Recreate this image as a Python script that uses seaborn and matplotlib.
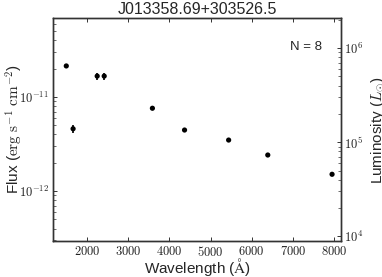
import numpy as np
import seaborn as sns
import matplotlib
matplotlib.use('Agg')
import matplotlib.pyplot as plt
from matplotlib.ticker import FixedLocator, FuncFormatter, LogLocator, NullFormatter

# photometry
wavelength = [1500, 1665, 2250, 2420, 3590, 4370, 5440, 6390, 7950]
flux = [2.14e-11, 4.6e-12, 1.67e-11, 1.67e-11, 7.6e-12, 4.46e-12, 3.49e-12, 2.42e-12, 1.51e-12]
wave_err = [0, 35, 35, 35, 0, 0, 0, 0, 0]
flux_err = [0, 0.5e-12, 1.4e-12, 1.4e-12, 0, 0, 0, 0, 0]
x_ticks = [2000, 3000, 4000, 5000, 6000, 7000, 8000]
n_label = 'N = 8'
title = 'J013358.69+303526.5'

sns.set_style('ticks')
plt.rcParams['font.family'] = ['Liberation Sans', 'DejaVu Sans']
plt.rcParams['mathtext.fontset'] = 'cm'

fig = plt.figure(figsize=(3.82, 2.77), dpi=100)
ax = fig.add_axes([0.139, 0.130, 0.754, 0.805])

ax.errorbar(wavelength, flux, xerr=wave_err, yerr=flux_err, fmt='none',
            ecolor='black', elinewidth=1.2, capsize=0)
sns.scatterplot(x=wavelength, y=flux, ax=ax, color='black', s=14,
                edgecolor='none', zorder=3)

ax.set_yscale('log')
ax.set_xlim(1180, 8170)
ax.set_ylim(10 ** -12.53, 10 ** -10.16)

ax.xaxis.set_major_locator(FixedLocator(x_ticks))
ax.xaxis.set_major_formatter(FuncFormatter(lambda v, p: '$%d$' % v))
ax.yaxis.set_major_locator(LogLocator(base=10))
ax.yaxis.set_major_formatter(FuncFormatter(lambda v, p: '$10^{%d}$' % round(np.log10(v))))
ax.yaxis.set_minor_locator(LogLocator(base=10, subs=np.arange(2, 10)))
ax.yaxis.set_minor_formatter(NullFormatter())

ax.tick_params(axis='both', direction='in', labelsize=9, colors='#333333',
               labelcolor='#222222', length=3, width=0.7, pad=3)
ax.tick_params(axis='y', which='minor', direction='in', length=2, width=0.5,
               colors='#333333')
ax.tick_params(axis='x', top=True)
for s in ax.spines.values():
    s.set_color('#333333')
    s.set_linewidth(1.0)

ax.set_xlabel('Wavelength ($\\mathrm{\\AA}$)', fontsize=11, va='center')
ax.xaxis.set_label_coords(0.5, -0.115)
ax.set_ylabel('Flux ($\\mathrm{erg\\ s^{-1}\\ cm^{-2}}$)', fontsize=11, va='center')
ax.yaxis.set_label_coords(-0.135, 0.5)
ax.set_title(title, fontsize=11.5, pad=3)
ax.text(0.934, 0.87, n_label, transform=ax.transAxes, ha='right', va='center',
        fontsize=9.5)

ax2 = ax.twinx()
ax2.set_yscale('log')
ax2.set_ylim(10 ** 3.95, 10 ** 6.32)
ax2.yaxis.set_major_locator(LogLocator(base=10))
ax2.yaxis.set_major_formatter(FuncFormatter(lambda v, p: '$10^{%d}$' % round(np.log10(v))))
ax2.yaxis.set_minor_locator(LogLocator(base=10, subs=np.arange(2, 10)))
ax2.yaxis.set_minor_formatter(NullFormatter())
ax2.tick_params(axis='y', which='major', direction='in', labelsize=9, length=3,
                width=0.7, colors='#333333', labelcolor='#222222', pad=2)
ax2.tick_params(axis='y', which='minor', direction='in', length=2, width=0.5,
                colors='#333333')
ax2.set_ylabel('Luminosity ($L_{\\odot}$)', fontsize=11, va='center')
ax2.yaxis.set_label_coords(1.13, 0.5)
for s in ax2.spines.values():
    s.set_color('#333333')
    s.set_linewidth(1.0)

fig.savefig('out.png', dpi=100)
